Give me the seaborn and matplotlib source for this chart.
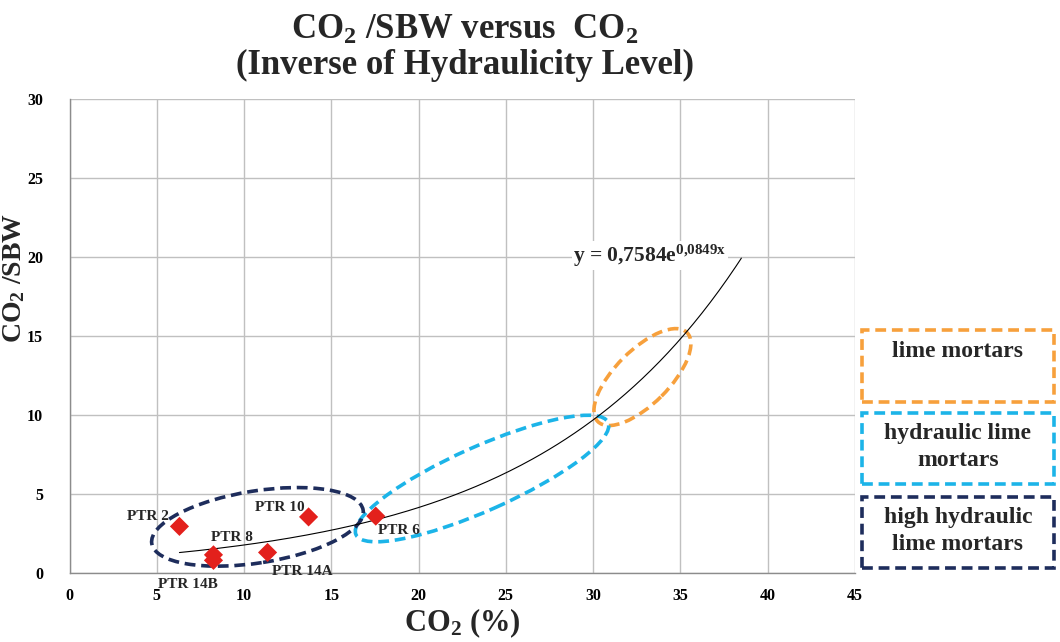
import matplotlib
matplotlib.use('Agg')
import matplotlib.pyplot as plt
import seaborn as sns
import numpy as np
import pandas as pd
from matplotlib.patches import Ellipse, Rectangle
from matplotlib.transforms import ScaledTranslation

# ------------------------------------------------------------------
# data
# ------------------------------------------------------------------
samples = ['PTR 2', 'PTR 8', 'PTR 14B', 'PTR 14A', 'PTR 10', 'PTR 6']
co2 = [6.3, 8.25, 8.25, 11.35, 13.7, 17.55]
co2_sbw = [2.95, 1.15, 0.8, 1.3, 3.55, 3.6]

# exponential trendline printed on the chart (forecast forward)
trend_a = 0.7584
trend_b = 0.0849
trend_end = 38.5

groups = ['lime mortars', 'hydraulic lime\nmortars', 'high hydraulic\nlime mortars']
group_colors = ['#F7A03C', '#1CB4E8', '#1E2D5C']

x_ticks = list(range(0, 50, 5))
y_ticks = list(range(0, 35, 5))

df = pd.DataFrame({'sample': samples, 'co2': co2, 'ratio': co2_sbw})

# ------------------------------------------------------------------
sns.set_theme(style='whitegrid')
plt.rcParams['font.family'] = ['Liberation Serif', 'DejaVu Serif']
plt.rcParams['font.weight'] = 'bold'
plt.rcParams['mathtext.fontset'] = 'custom'
plt.rcParams['mathtext.rm'] = 'Liberation Serif:bold'
plt.rcParams['mathtext.bf'] = 'Liberation Serif:bold'
plt.rcParams['mathtext.it'] = 'Liberation Serif:bold'

W, H = 1060, 642
fig = plt.figure(figsize=(W / 100, H / 100), dpi=100)
ax = fig.add_axes([69.5 / W, 1 - 573 / H, 785.3 / W, 474 / H])

# trendline
tx = np.linspace(min(co2), trend_end, 200)
sns.lineplot(x=tx, y=trend_a * np.exp(trend_b * tx), ax=ax, color='black', lw=0.8, zorder=4)

sns.scatterplot(data=df, x='co2', y='ratio', ax=ax, marker='D', s=95,
                color='#E3201C', edgecolor='none', zorder=5)

# point labels: (offset px, ha)
label_pos = {'PTR 2': (-11, 10, 'right'), 'PTR 8': (-2, 17, 'left'),
             'PTR 14B': (-55, -24, 'left'), 'PTR 14A': (4, -19, 'left'),
             'PTR 10': (-4, 9, 'right'), 'PTR 6': (2, -14, 'left')}
for s, xv, yv in zip(samples, co2, co2_sbw):
    dx, dy, ha = label_pos[s]
    ax.annotate(s, (xv, yv), xytext=(dx, dy), textcoords='offset pixels',
                ha=ha, va='center', fontsize=11, fontweight='bold',
                annotation_clip=False, zorder=6)


def dashed_ellipse(cx, cy, a_px, b_px, angle, color):
    tr = fig.dpi_scale_trans + ScaledTranslation(cx, cy, ax.transData)
    ax.add_patch(Ellipse((0, 0), 2 * a_px / 100, 2 * b_px / 100, angle=angle,
                         transform=tr, fill=False, ec=color, lw=2.6,
                         ls=(0, (3, 1.6)), zorder=3))


dashed_ellipse(32.83, 12.4, 63, 27, 45, group_colors[0])
dashed_ellipse(23.64, 5.98, 138, 32, 24, group_colors[1])
dashed_ellipse(10.77, 2.92, 107, 36, 9, group_colors[2])

ax.text(28.85, 20.1, r'y = 0,7584e$^{0{,}0849x}$', fontsize=15.5, fontweight='bold',
        va='center', ha='left', zorder=6,
        bbox=dict(facecolor='white', edgecolor='none', pad=1))

ax.set_xlim(0, 45)
ax.set_ylim(0, 30)
ax.set_xticks(x_ticks)
ax.set_yticks(y_ticks)
ax.grid(True, color='#C0C0C0', lw=1)
for side in ['top', 'right']:
    ax.spines[side].set_visible(False)
for side in ['left', 'bottom']:
    ax.spines[side].set_color('#8C8C8C')
    ax.spines[side].set_linewidth(1)
ax.tick_params(axis='both', which='major', length=4, width=1, color='#8C8C8C',
               labelsize=11.5, labelcolor='black')
ax.tick_params(axis='y', pad=15)
ax.tick_params(axis='x', pad=7)
for lab in ax.get_xticklabels() + ax.get_yticklabels():
    lab.set_fontweight('bold')

ax.set_xlabel(r'CO$_2$ (%)', fontsize=22, fontweight='bold', va='center')
ax.set_ylabel(r'CO$_2$ /SBW', fontsize=20, fontweight='bold', va='center')
ax.xaxis.set_label_coords(0.5, -0.105)
ax.yaxis.set_label_coords(-0.07, 0.622)

fig.text(465 / W, 1 - 30 / H, r'CO$_2$ /SBW versus  CO$_2$', ha='center', va='center',
         fontsize=25, fontweight='bold')
fig.text(465 / W, 1 - 65 / H, '(Inverse of Hydraulicity Level)', ha='center', va='center',
         fontsize=25, fontweight='bold')

# legend boxes on the right
box_y = [(330, 401.7), (413, 484), (497, 568)]
for (y0, y1), name, col in zip(box_y, groups, group_colors):
    fig.add_artist(Rectangle((861.7 / W, 1 - y1 / H), (1054 - 861.7) / W, (y1 - y0) / H,
                             transform=fig.transFigure, fill=False, ec=col, lw=2.6,
                             ls=(0, (3, 1.6))))
boxes_text_y = [351.7, 447, 531]
for name, yc in zip(groups, boxes_text_y):
    fig.text(958 / W, 1 - yc / H, name, ha='center', va='center', fontsize=17,
             fontweight='bold', linespacing=1.4)

fig.savefig('out.png', dpi=100)
